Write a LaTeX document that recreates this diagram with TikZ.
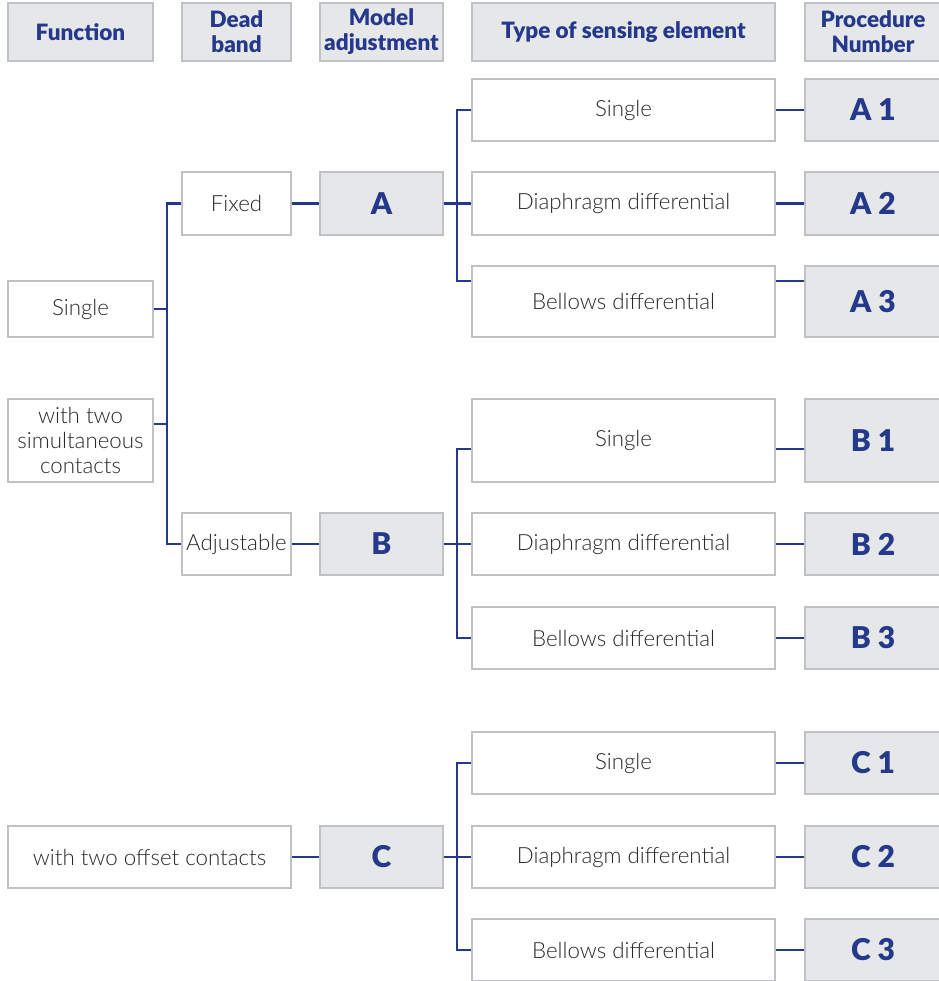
\documentclass[tikz,border=0pt]{standalone}
\usepackage{fontspec}
\setmainfont{Lato}[UprightFont=* Light,BoldFont=* Black]
\definecolor{navy}{RGB}{36,56,140}
\definecolor{panel}{RGB}{230,231,233}
\definecolor{rim}{RGB}{192,193,196}
\definecolor{ink}{RGB}{40,40,40}
\begin{document}
\begin{tikzpicture}[x=1pt,y=-1pt,
    box/.style={draw=rim,line width=1.5pt,fill=white,text=ink,inner sep=0pt,align=center,
      font=\fontsize{22.3}{25}\selectfont},
    head/.style={box,fill=panel,text=navy,font=\bfseries\fontsize{22.5}{25}\selectfont},
    code/.style={box,fill=panel,text=navy,font=\bfseries\fontsize{30}{30}\selectfont},
    link/.style={draw=navy,line width=2.5pt}]
    \useasboundingbox (0,0) rectangle (938,981);
    \node[head,minimum width=145,minimum height=58] (hfun) at (80.5,32) {Function};
    \node[head,minimum width=109,minimum height=58] (hdead) at (236.5,32) {Dead\\band};
    \node[head,minimum width=123,minimum height=58] (hmodel) at (381.5,32) {Model\\adjustment};
    \node[head,minimum width=303,minimum height=58] (htype) at (623.5,32) {Type of sensing element};
    \node[head,minimum width=136,minimum height=58] (hproc) at (873,32) {Procedure\\Number};
    \node[box,minimum width=145,minimum height=56] (fsingle) at (80.5,309) {Single};
    \node[box,minimum width=145,minimum height=83] (fsim) at (80.5,440.5) {with two\\simultaneous\\contacts};
    \node[box,minimum width=283,minimum height=62] (foffset) at (149.5,857) {with two offset contacts};
    \node[box,minimum width=109,minimum height=63] (fixed) at (236.5,203.5) {Fixed};
    \node[box,minimum width=109,minimum height=62] (adjust) at (236.5,544) {Adjustable};
    \node[code,minimum width=123,minimum height=63] (ma) at (381.5,203.5) {A};
    \node[code,minimum width=123,minimum height=62] (mb) at (381.5,544) {B};
    \node[code,minimum width=123,minimum height=62] (mc) at (381.5,857) {C};
    \foreach \n/\y/\h/\t in {a1/110/62/Single,a2/203.5/63/Diaphragm differential,a3/301.5/71/Bellows differential,
        b1/440.5/83/Single,b2/544/62/Diaphragm differential,b3/638/62/Bellows differential,
        c1/763/62/Single,c2/857/62/Diaphragm differential,c3/950/62/Bellows differential}{
      \node[box,minimum width=303,minimum height=\h] (s\n) at (623.5,\y) {\t};
    }
    \foreach \n/\y/\h/\t in {a1/110/62/A 1,a2/203.5/63/A 2,a3/301.5/71/A 3,
        b1/440.5/83/B 1,b2/544/62/B 2,b3/638/62/B 3,
        c1/763/62/C 1,c2/857/62/C 2,c3/950/62/C 3}{
      \node[code,minimum width=136,minimum height=\h] (p\n) at (873,\y) {\t};
    }
    \coordinate (ft) at (167,0);
    \coordinate (at) at (457,0);
    \coordinate (qsim) at ([yshift=16.5pt]fsim.east);
    \coordinate (qa3) at ([yshift=20.5pt]sa3.west);
    \coordinate (qb1) at ([yshift=-8.5pt]sb1.west);
    \draw[link] (fixed.west) -| (ft |- adjust.west) -- (adjust.west);
    \draw[link] (fsingle.east) -- (fsingle.east -| ft);
    \draw[link] (qsim) -- (qsim -| ft);
    \draw[link] (fixed) -- (ma);
    \draw[link] (adjust) -- (mb);
    \draw[link] (foffset) -- (mc);
    \draw[link] (ma) -- (sa2);
    \draw[link] (mb) -- (sb2);
    \draw[link] (mc) -- (sc2);
    \draw[link] (sa1.west) -| (at |- qa3) -- (qa3);
    \draw[link] (qb1) -| (at |- sb3.west) -- (sb3.west);
    \draw[link] (sc1.west) -| (at |- sc3.west) -- (sc3.west);
    \foreach \n in {a1,a2,b2,b3,c1,c2,c3}{
      \draw[link] (s\n) -- (p\n);
    }
    \draw[link] ([yshift=20.5pt]sa3.east) -- ([yshift=20.5pt]pa3.west);
    \draw[link] ([yshift=-8.5pt]sb1.east) -- ([yshift=-8.5pt]pb1.west);
\end{tikzpicture}
\end{document}
